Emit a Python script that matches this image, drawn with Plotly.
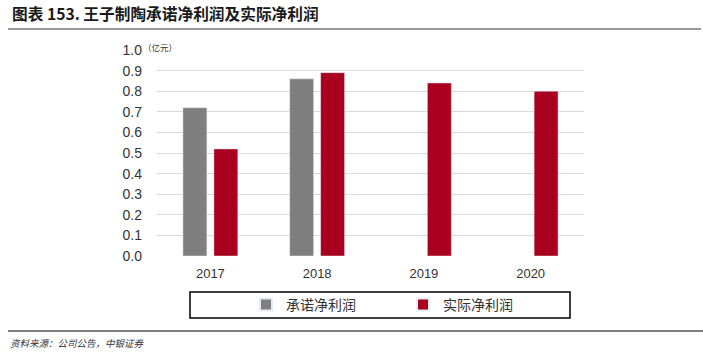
import plotly.graph_objects as go

years = ["2017", "2018", "2019", "2020"]
promised = [0.72, 0.86, None, None]
actual = [0.52, 0.89, 0.84, 0.80]
ytick_vals = [0.0, 0.1, 0.2, 0.3, 0.4, 0.5, 0.6, 0.7, 0.8, 0.9, 1.0]

title_text = "图表 153. 王子制陶承诺净利润及实际净利润"
unit_text = "（亿元）"
source_text = "资料来源：公司公告，中银证券"

FONT = "Liberation Sans, Arial, Noto Sans CJK SC, sans-serif"
CJK = "Noto Sans CJK SC, sans-serif"

W, H = 703, 354
L, R, T, B = 157, 119, 50, 98
PW = W - L - R
PH = H - T - B

def px(x):
    return (x - L) / PW

def py(y):
    return (H - B - y) / PH

fig = go.Figure()
fig.add_trace(go.Bar(name="承诺净利润", x=years, y=promised, marker_color="#7f7f7f"))
fig.add_trace(go.Bar(name="实际净利润", x=years, y=actual, marker_color="#a8001e"))

fig.update_layout(
    width=W, height=H,
    margin=dict(l=L, r=R, t=T, b=B),
    paper_bgcolor="white", plot_bgcolor="white",
    barmode="group", bargap=0.42, bargroupgap=0.226,
    title=dict(text="<b>" + title_text + "</b>", xref="container", x=12 / W, xanchor="left",
               yref="container", y=1 - 15 / H, yanchor="middle",
               font=dict(family=CJK, size=15.7, color="#1a1a1a")),
    showlegend=True,
    legend=dict(orientation="h", x=px(403), xanchor="center", y=py(305), yanchor="middle",
                bgcolor="rgba(0,0,0,0)", borderwidth=0,
                font=dict(family=CJK, size=14, color="#333333"),
                entrywidth=112, entrywidthmode="pixels", itemsizing="constant"),
    font=dict(family=FONT, size=13, color="#333333"),
)

fig.update_xaxes(type="category", showgrid=False, showline=False, zeroline=False,
                 ticks="", tickfont=dict(family=FONT, size=13, color="#333333"),
                 ticklabelstandoff=8)
fig.update_yaxes(range=[0, 1.0], tickvals=ytick_vals, tickformat=".1f",
                 showgrid=True, gridcolor="#d9d9d9", gridwidth=1, zeroline=False,
                 showline=False, ticks="", tickfont=dict(family=FONT, size=14, color="#333333"),
                 ticklabelstandoff=14)

# unit label
fig.add_annotation(text=unit_text, xref="paper", yref="paper", x=px(141), y=py(47),
                   xanchor="left", yanchor="middle", showarrow=False,
                   font=dict(family=CJK, size=8.5, color="#333333"))

# source note
fig.add_annotation(text="<i>" + source_text + "</i>", xref="paper", yref="paper", x=px(8), y=py(343),
                   xanchor="left", yanchor="middle", showarrow=False,
                   font=dict(family=CJK, size=9.5, color="#333333"))

# title rule, bottom rule, legend frame
fig.add_shape(type="line", xref="paper", yref="paper", x0=px(8), x1=px(701), y0=py(29), y1=py(29),
              line=dict(color="#333333", width=1))
fig.add_shape(type="line", xref="paper", yref="paper", x0=px(8), x1=px(703), y0=py(331), y1=py(331),
              line=dict(color="#7f7f7f", width=2))
fig.add_shape(type="rect", xref="paper", yref="paper", x0=px(190), x1=px(570), y0=py(318), y1=py(292),
              line=dict(color="#000000", width=1.5), fillcolor="rgba(0,0,0,0)")

fig.write_html("out.html")
